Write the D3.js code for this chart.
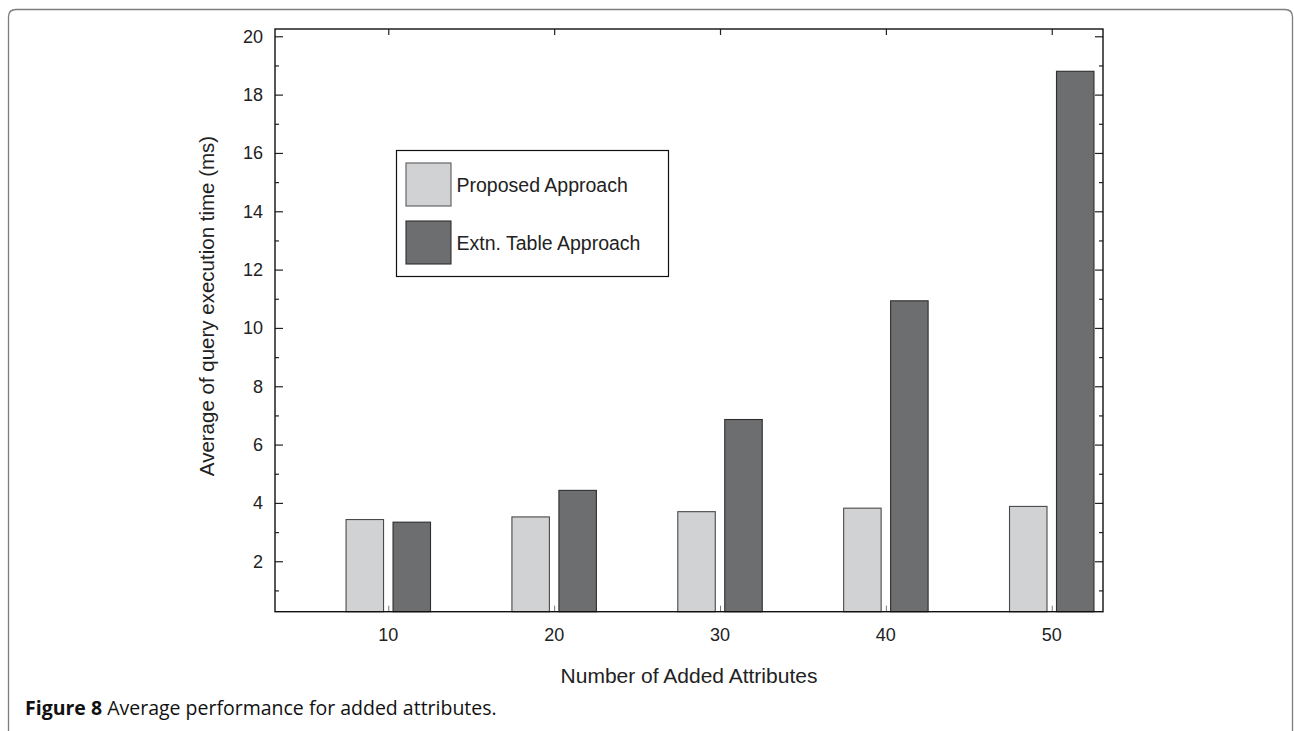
<!DOCTYPE html>
<html>
<head>
<meta charset="utf-8">
<script src="https://cdn.jsdelivr.net/npm/d3@7"></script>
<style>
  html, body { margin: 0; padding: 0; background: #fff; }
  svg { display: block; }
</style>
</head>
<body>
<svg id="chart" width="1294" height="731"></svg>
<script>
// Average query execution time (ms) per number of added attributes
const categories = [10, 20, 30, 40, 50];
const proposed = [3.43, 3.52, 3.70, 3.82, 3.88];
const extnTable = [3.34, 4.43, 6.86, 10.93, 18.80];
const seriesNames = ["Proposed Approach", "Extn. Table Approach"];
const yMajorTicks = [2, 4, 6, 8, 10, 12, 14, 16, 18, 20];
const yMinorTicks = [1, 3, 5, 7, 9, 11, 13, 15, 17, 19];

const colors = ["#d1d2d4", "#6d6e70"];
const svg = d3.select("#chart");

// Panel frame with rounded top corners
svg.append("path")
  .attr("d", "M8.5,740 L8.5,17 Q8.5,9.5 16,9.5 L1285,9.5 Q1292.5,9.5 1292.5,17 L1292.5,740")
  .attr("fill", "none")
  .attr("stroke", "#7d7d7d")
  .attr("stroke-width", 1.3);

const plot = { left: 275, right: 1103, top: 29, bottom: 611.7 };

// x: category index (1..5) on a linear scale
const x = d3.scaleLinear().domain([0.317, 5.309]).range([plot.left, plot.right]);
const y = d3.scaleLinear().domain([0.27, 20.25]).range([plot.bottom, plot.top]);

const step = x(2) - x(1);
const barW = 0.226 * step;
const offsets = [-0.1416 * step, 0.1416 * step];
const series = [proposed, extnTable];

const g = svg.append("g");

// Bars
series.forEach((vals, s) => {
  g.selectAll(null)
    .data(vals)
    .enter()
    .append("rect")
    .attr("x", (d, i) => x(i + 1) + offsets[s] - barW / 2)
    .attr("y", d => y(d))
    .attr("width", barW)
    .attr("height", d => y(y.domain()[0]) - y(d))
    .attr("fill", colors[s])
    .attr("stroke", s === 0 ? "#4a4a4a" : "#2e2e2e")
    .attr("stroke-width", 1.1);
});

// Axes: left/right with inward ticks, top/bottom with ticks at category centres
const yAxisLeft = d3.axisRight(y).tickValues(yMajorTicks).tickSize(8).tickFormat("");
const yAxisLeftMinor = d3.axisRight(y).tickValues(yMinorTicks).tickSize(4).tickFormat("");
const yAxisRight = d3.axisLeft(y).tickValues(yMajorTicks).tickSize(8).tickFormat("");
const yAxisRightMinor = d3.axisLeft(y).tickValues(yMinorTicks).tickSize(4).tickFormat("");
const catIdx = categories.map((c, i) => i + 1);
const xAxisBottom = d3.axisTop(x).tickValues(catIdx).tickSize(6).tickFormat("");
const xAxisTop = d3.axisBottom(x).tickValues(catIdx).tickSize(6).tickFormat("");

function styleAxis(sel) {
  sel.select(".domain").remove();
  sel.selectAll(".tick line").attr("stroke", "#222").attr("stroke-width", 1.2);
}

g.append("g").attr("transform", `translate(${plot.left},0)`).call(yAxisLeft).call(styleAxis);
g.append("g").attr("transform", `translate(${plot.left},0)`).call(yAxisLeftMinor).call(styleAxis);
g.append("g").attr("transform", `translate(${plot.right},0)`).call(yAxisRight).call(styleAxis);
g.append("g").attr("transform", `translate(${plot.right},0)`).call(yAxisRightMinor).call(styleAxis);
g.append("g").attr("transform", `translate(0,${plot.bottom})`).call(xAxisBottom).call(styleAxis)
  .selectAll(".tick line").attr("stroke", "#777").attr("stroke-width", 1);
g.append("g").attr("transform", `translate(0,${plot.top})`).call(xAxisTop).call(styleAxis);

// Plot box
g.append("rect")
  .attr("x", plot.left).attr("y", plot.top)
  .attr("width", plot.right - plot.left).attr("height", plot.bottom - plot.top)
  .attr("fill", "none").attr("stroke", "#111").attr("stroke-width", 1.4);

// Tick labels
const font = "'Liberation Sans', Arial, Helvetica, sans-serif";
g.selectAll(".ylab")
  .data(yMajorTicks)
  .enter().append("text")
  .attr("x", plot.left - 12)
  .attr("y", d => y(d))
  .attr("dy", "0.35em")
  .attr("text-anchor", "end")
  .attr("font-family", font)
  .attr("font-size", 18)
  .attr("fill", "#222")
  .text(d => d);

g.selectAll(".xlab")
  .data(categories)
  .enter().append("text")
  .attr("x", (d, i) => x(i + 1))
  .attr("y", 641)
  .attr("text-anchor", "middle")
  .attr("font-family", font)
  .attr("font-size", 18)
  .attr("fill", "#222")
  .text(d => d);

// Axis titles
svg.append("text")
  .attr("x", (plot.left + plot.right) / 2)
  .attr("y", 683)
  .attr("text-anchor", "middle")
  .attr("font-family", font)
  .attr("font-size", 21)
  .attr("fill", "#222")
  .text("Number of Added Attributes");

svg.append("text")
  .attr("transform", "translate(214,306) rotate(-90)")
  .attr("text-anchor", "middle")
  .attr("font-family", font)
  .attr("font-size", 20.5)
  .attr("fill", "#222")
  .text("Average of query execution time (ms)");

// Legend
const legend = svg.append("g").attr("transform", "translate(396.5,150.5)");
legend.append("rect")
  .attr("width", 272).attr("height", 126)
  .attr("fill", "#fff").attr("stroke", "#111").attr("stroke-width", 1.2);
seriesNames.forEach((name, s) => {
  legend.append("rect")
    .attr("x", 9.5).attr("y", 12.5 + s * 58)
    .attr("width", 45).attr("height", 43)
    .attr("fill", colors[s])
    .attr("stroke", s === 0 ? "#5a5a5a" : "#2e2e2e")
    .attr("stroke-width", 1.1);
  legend.append("text")
    .attr("x", 60).attr("y", 41.5 + s * 58)
    .attr("font-family", font)
    .attr("font-size", 19.5)
    .attr("fill", "#222")
    .text(name);
});

// Caption
const cap = svg.append("text")
  .attr("x", 25).attr("y", 715)
  .attr("font-family", "'Open Sans', 'Noto Sans', sans-serif")
  .attr("font-size", 19.5)
  .attr("fill", "#111");
cap.append("tspan").attr("font-weight", "bold").text("Figure 8");
cap.append("tspan").text(" Average performance for added attributes.");
</script>
</body>
</html>
